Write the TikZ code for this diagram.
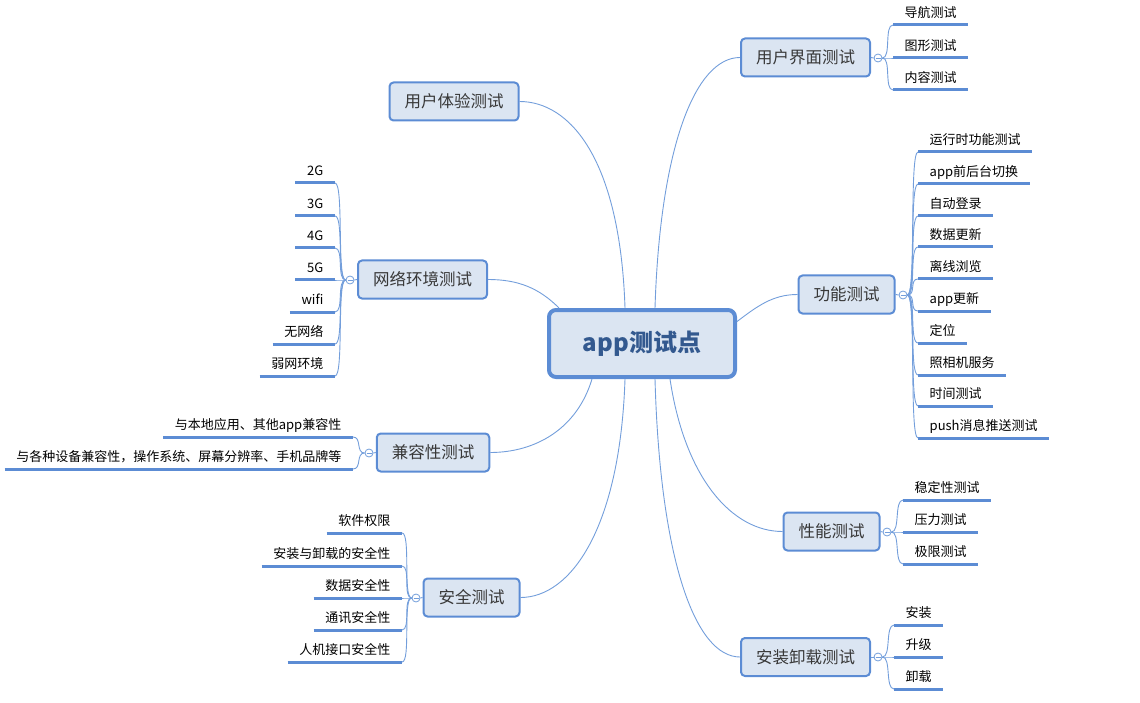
\documentclass[tikz,border=0pt]{standalone}
\usepackage{fontspec}
\setmainfont{Noto Sans CJK SC}
\usepackage{tikz}
\definecolor{boxblue}{rgb}{0.36, 0.55, 0.83}
\definecolor{boxfill}{rgb}{0.86, 0.9, 0.95}
\definecolor{linkblue}{rgb}{0.45, 0.62, 0.86}
\definecolor{rootink}{rgb}{0.2, 0.35, 0.56}
\definecolor{topicink}{rgb}{0.22, 0.22, 0.22}

\begin{document}
\begin{tikzpicture}[x=1pt, y=-1pt,
    root/.style={draw=boxblue, fill=boxfill, line width=4pt, rounded corners=7pt, minimum width=186pt, minimum height=67pt, text=rootink, font=\fontsize{24}{28}\selectfont\bfseries},
    topic/.style={draw=boxblue, fill=boxfill, line width=2pt, rounded corners=4pt, inner xsep=15pt, minimum height=38pt, text=topicink, font=\fontsize{16.5}{20}\selectfont},
    leaf/.style={inner xsep=11.5pt, inner ysep=4pt, text height=10pt, text depth=3pt, font=\fontsize{13}{15}\selectfont,
      append after command={(\tikzlastnode.south west) edge[draw=boxblue, line width=3pt] (\tikzlastnode.south east)}},
    fold/.style={circle, draw=linkblue, fill=white, line width=0.8pt, minimum size=8pt, inner sep=0pt,
      path picture={\draw[linkblue, line width=0.8pt] ([xshift=-2.5pt]path picture bounding box.center) -- ([xshift=2.5pt]path picture bounding box.center);}},
    link/.style={draw=linkblue, line width=0.9pt},
    branch/.style={draw=linkblue, line width=0.9pt}]
  \useasboundingbox (0,0) rectangle (1140,703);

  \node[root] (root) at (642,343.5) {app测试点};

  \node[topic] (ui) at (805.5,57.5) {用户界面测试};
  \node[topic] (ux) at (454,101.5) {用户体验测试};
  \node[topic] (net) at (422.5,279.5) {网络环境测试};
  \node[topic] (func) at (846.5,294.5) {功能测试};
  \node[topic] (compat) at (433,452.5) {兼容性测试};
  \node[topic] (perf) at (831.5,531.5) {性能测试};
  \node[topic] (safe) at (471.5,597.5) {安全测试};
  \node[topic] (inst) at (805.5,657) {安装卸载测试};

  \draw[link] ([xshift=13pt]root.north) .. controls +(5,-160) and +(-45,0) .. (ui.west);
  \draw[link] ([xshift=-17pt]root.north) .. controls +(-5,-150) and +(50,0) .. (ux.east);
  \draw[link] ([xshift=12pt]root.north west) .. controls +(-20,-20) and +(30,0) .. (net.east);
  \draw[link] ([yshift=22pt]root.east) .. controls +(20,-15) and +(-25,0) .. (func.west);
  \draw[link] ([xshift=-50pt]root.south) .. controls +(-15,50) and +(45,0) .. (compat.east);
  \draw[link] ([xshift=-17pt]root.south) .. controls +(-5,150) and +(50,0) .. (safe.east);
  \draw[link] ([xshift=28pt]root.south) .. controls +(15,100) and +(-50,0) .. (perf.west);
  \draw[link] ([xshift=13pt]root.south) .. controls +(5,180) and +(-45,0) .. (inst.west);

  \node[fold] (uifold) at (878,58) {};
  \node[fold] (funcfold) at (903,295) {};
  \node[fold] (netfold) at (350,280) {};
  \node[fold] (compatfold) at (369,453) {};
  \node[fold] (perffold) at (887,532) {};
  \node[fold] (safefold) at (416,598) {};
  \node[fold] (instfold) at (878,657) {};
  \draw[branch] (ui.east) -- (uifold.west);
  \draw[branch] (func.east) -- (funcfold.west);
  \draw[branch] (net.west) -- (netfold.east);
  \draw[branch] (compat.west) -- (compatfold.east);
  \draw[branch] (perf.east) -- (perffold.west);
  \draw[branch] (safe.west) -- (safefold.east);
  \draw[branch] (inst.east) -- (instfold.west);

  \node[leaf, anchor=south west] (ui1) at (893,25) {导航测试};
  \node[leaf, anchor=south west] (ui2) at (893,58) {图形测试};
  \node[leaf, anchor=south west] (ui3) at (893,90) {内容测试};
  \foreach \n in {ui1,ui2,ui3}
    \draw[branch] (uifold.east) .. controls +(9,0) and +(-9,0) .. (\n.south west);

  \node[leaf, anchor=south west] (func1) at (918,152) {运行时功能测试};
  \node[leaf, anchor=south west] (func2) at (918,184) {app前后台切换};
  \node[leaf, anchor=south west] (func3) at (918,216) {自动登录};
  \node[leaf, anchor=south west] (func4) at (918,247) {数据更新};
  \node[leaf, anchor=south west] (func5) at (918,279) {离线浏览};
  \node[leaf, anchor=south west] (func6) at (918,311) {app更新};
  \node[leaf, anchor=south west] (func7) at (918,343) {定位};
  \node[leaf, anchor=south west] (func8) at (918,375) {照相机服务};
  \node[leaf, anchor=south west] (func9) at (918,406) {时间测试};
  \node[leaf, anchor=south west] (func10) at (918,438) {push消息推送测试};
  \foreach \n in {func1,func2,func3,func4,func5,func6,func7,func8,func9,func10}
    \draw[branch] (funcfold.east) .. controls +(9,0) and +(-9,0) .. (\n.south west);

  \node[leaf, anchor=south east] (net1) at (335,183) {2G};
  \node[leaf, anchor=south east] (net2) at (335,216) {3G};
  \node[leaf, anchor=south east] (net3) at (335,248) {4G};
  \node[leaf, anchor=south east] (net4) at (335,280) {5G};
  \node[leaf, anchor=south east] (net5) at (335,312) {wifi};
  \node[leaf, anchor=south east] (net6) at (335,344) {无网络};
  \node[leaf, anchor=south east] (net7) at (335,376) {弱网环境};
  \foreach \n in {net1,net2,net3,net4,net5,net6,net7}
    \draw[branch] (netfold.west) .. controls +(-9,0) and +(9,0) .. (\n.south east);

  \node[leaf, anchor=south east] (compat1) at (353,437) {与本地应用、其他app兼容性};
  \node[leaf, anchor=south east] (compat2) at (353,469) {与各种设备兼容性，操作系统、屏幕分辨率、手机品牌等};
  \foreach \n in {compat1,compat2}
    \draw[branch] (compatfold.west) .. controls +(-9,0) and +(9,0) .. (\n.south east);

  \node[leaf, anchor=south west] (perf1) at (903,500) {稳定性测试};
  \node[leaf, anchor=south west] (perf2) at (903,532) {压力测试};
  \node[leaf, anchor=south west] (perf3) at (903,564) {极限测试};
  \foreach \n in {perf1,perf2,perf3}
    \draw[branch] (perffold.east) .. controls +(9,0) and +(-9,0) .. (\n.south west);

  \node[leaf, anchor=south east] (safe1) at (402,533) {软件权限};
  \node[leaf, anchor=south east] (safe2) at (402,566) {安装与卸载的安全性};
  \node[leaf, anchor=south east] (safe3) at (402,598) {数据安全性};
  \node[leaf, anchor=south east] (safe4) at (402,630) {通讯安全性};
  \node[leaf, anchor=south east] (safe5) at (402,662) {人机接口安全性};
  \foreach \n in {safe1,safe2,safe3,safe4,safe5}
    \draw[branch] (safefold.west) .. controls +(-9,0) and +(9,0) .. (\n.south east);

  \node[leaf, anchor=south west] (inst1) at (894,625) {安装};
  \node[leaf, anchor=south west] (inst2) at (894,657) {升级};
  \node[leaf, anchor=south west] (inst3) at (894,689) {卸载};
  \foreach \n in {inst1,inst2,inst3}
    \draw[branch] (instfold.east) .. controls +(9,0) and +(-9,0) .. (\n.south west);
\end{tikzpicture}
\end{document}
